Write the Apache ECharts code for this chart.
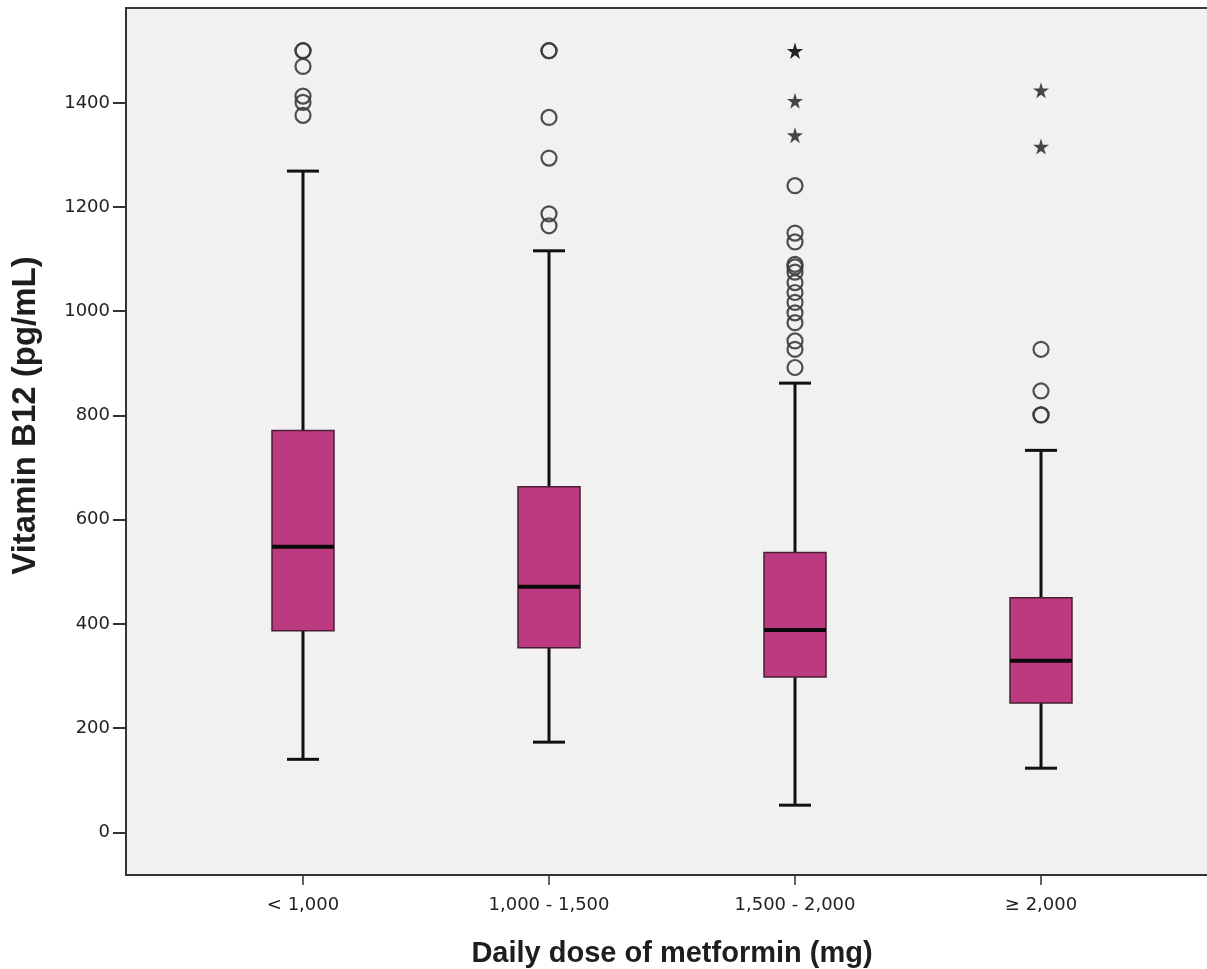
<!DOCTYPE html>
<html>
<head>
<meta charset="utf-8">
<script src="https://cdn.jsdelivr.net/npm/echarts@6/dist/echarts.min.js"></script>
<style>
html,body{margin:0;padding:0;background:#fff;}
#main{width:1207px;height:969px;}
</style>
</head>
<body>
<div id="main"></div>
<script>
// ---- data ----
const categories = ['< 1,000', '1,000 - 1,500', '1,500 - 2,000', '\u2265 2,000'];
const boxMin    = [140, 173, 52, 123];
const boxQ1     = [387, 354, 298, 248];
const boxMedian = [548, 471, 388, 329];
const boxQ3     = [771, 663, 537, 450];
const boxMax    = [1269, 1116, 862, 733];
// outliers (circles) per category
const outliersLt1000    = [1500, 1500, 1470, 1413, 1401, 1376];
const outliers1000_1500 = [1500, 1500, 1372, 1294, 1187, 1164];
const outliers1500_2000 = [1241, 1150, 1133, 1090, 1085, 1075, 1055, 1036, 1017, 997, 978, 943, 927, 892];
const outliersGe2000    = [927, 847, 801, 801];
// extreme values (stars) per category
const extremesLt1000    = [];
const extremes1000_1500 = [];
const extremes1500_2000 = [1500, 1500, 1404, 1338];
const extremesGe2000    = [1424, 1316];
const yTicks = [0, 200, 400, 600, 800, 1000, 1200, 1400];

// ---- build ----
const outlierGroups = [outliersLt1000, outliers1000_1500, outliers1500_2000, outliersGe2000];
const extremeGroups = [extremesLt1000, extremes1000_1500, extremes1500_2000, extremesGe2000];
const circleData = [];
outlierGroups.forEach((g, i) => g.forEach(v => circleData.push([i, v])));
const starData = [];
extremeGroups.forEach((g, i) => g.forEach(v => starData.push([i, v])));
const boxData = categories.map((c, i) => [i, boxMin[i], boxQ1[i], boxMedian[i], boxQ3[i], boxMax[i]]);

const Y_MIN = -82, Y_MAX = 1582;
const TICK_FONT = 'DejaVu Sans, sans-serif';
const TITLE_FONT = 'Liberation Sans, Arial, sans-serif';
const STAR = 'path://M50,0 L61,35 L98,35 L68,57 L79,91 L50,70 L21,91 L32,57 L2,35 L39,35 Z';

const chart = echarts.init(document.getElementById('main'), null, {renderer: 'canvas'});
chart.setOption({
  backgroundColor: '#ffffff',
  animation: false,
  grid: [
    {left: 126, right: -11, top: 8, bottom: 94, outerBoundsMode: 'none', containLabel: false,
     show: true, backgroundColor: '#f1f1f1', borderColor: '#3a3a3a', borderWidth: 2},
    {left: 180, right: 43, top: 8, bottom: 94, outerBoundsMode: 'none', containLabel: false}
  ],
  xAxis: [
    {gridIndex: 0, type: 'value', min: 0, max: 1,
     axisLine: {show: true, onZero: false, lineStyle: {color: '#333', width: 2}},
     axisTick: {show: false}, axisLabel: {show: false}, splitLine: {show: false},
     name: 'Daily dose of metformin (mg)', nameLocation: 'middle', nameGap: 64,
     nameTextStyle: {fontFamily: TITLE_FONT, fontSize: 29, fontWeight: 'bold', color: '#1e1e1e'}},
    {gridIndex: 1, type: 'category', data: categories, boundaryGap: true,
     axisLine: {show: false, onZero: false},
     axisTick: {show: true, alignWithLabel: true, length: 10, inside: false, lineStyle: {color: '#333', width: 1.5}},
     axisLabel: {fontFamily: TICK_FONT, fontSize: 18, color: '#222', margin: 21},
     splitLine: {show: false}}
  ],
  yAxis: [
    {gridIndex: 0, type: 'value', min: Y_MIN, max: Y_MAX,
     axisLine: {show: true, onZero: false, lineStyle: {color: '#333', width: 2}},
     axisTick: {show: true, length: 13, customValues: yTicks, lineStyle: {color: '#333', width: 2}},
     axisLabel: {fontFamily: TICK_FONT, fontSize: 18, color: '#222', margin: 16, customValues: yTicks,
                 formatter: function (v) { return String(v); }},
     splitLine: {show: false},
     name: 'Vitamin B12 (pg/mL)', nameLocation: 'middle', nameGap: 84,
     nameTextStyle: {fontFamily: TITLE_FONT, fontSize: 33, fontWeight: 'bold', color: '#1e1e1e', padding: [0, 0, 0, 52]}},
    {gridIndex: 1, type: 'value', min: Y_MIN, max: Y_MAX, show: false}
  ],
  series: [
    {
      type: 'custom', xAxisIndex: 1, yAxisIndex: 1, data: boxData, z: 5,
      renderItem: function (params, api) {
        const x = api.value(0);
        const pMin = api.coord([x, api.value(1)]);
        const pQ1 = api.coord([x, api.value(2)]);
        const pMed = api.coord([x, api.value(3)]);
        const pQ3 = api.coord([x, api.value(4)]);
        const pMax = api.coord([x, api.value(5)]);
        const band = api.size([1, 0])[0];
        const bw = band * 0.252, cw = band * 0.13;
        const cx = pMed[0];
        const wStyle = {stroke: '#111', lineWidth: 3};
        return {
          type: 'group',
          children: [
            {type: 'line', shape: {x1: cx, y1: pQ3[1], x2: cx, y2: pMax[1]}, style: wStyle},
            {type: 'line', shape: {x1: cx, y1: pQ1[1], x2: cx, y2: pMin[1]}, style: wStyle},
            {type: 'line', shape: {x1: cx - cw / 2, y1: pMax[1], x2: cx + cw / 2, y2: pMax[1]}, style: wStyle},
            {type: 'line', shape: {x1: cx - cw / 2, y1: pMin[1], x2: cx + cw / 2, y2: pMin[1]}, style: wStyle},
            {type: 'rect', shape: {x: cx - bw / 2, y: pQ3[1], width: bw, height: pQ1[1] - pQ3[1]},
             style: {fill: '#bc3a7f', stroke: '#4a1f33', lineWidth: 1.5}},
            {type: 'line', shape: {x1: cx - bw / 2, y1: pMed[1], x2: cx + bw / 2, y2: pMed[1]},
             style: {stroke: '#0a0a0a', lineWidth: 4}}
          ]
        };
      }
    },
    {
      type: 'scatter', xAxisIndex: 1, yAxisIndex: 1, data: circleData, z: 6,
      symbol: 'circle', symbolSize: 15,
      itemStyle: {color: 'rgba(255,255,255,0)', borderColor: '#3c3c3c', borderWidth: 2.2, opacity: 0.9}
    },
    {
      type: 'scatter', xAxisIndex: 1, yAxisIndex: 1, data: starData, z: 6,
      symbol: STAR, symbolSize: 16,
      itemStyle: {color: '#1a1a1a'}
    }
  ]
});
</script>
</body>
</html>
